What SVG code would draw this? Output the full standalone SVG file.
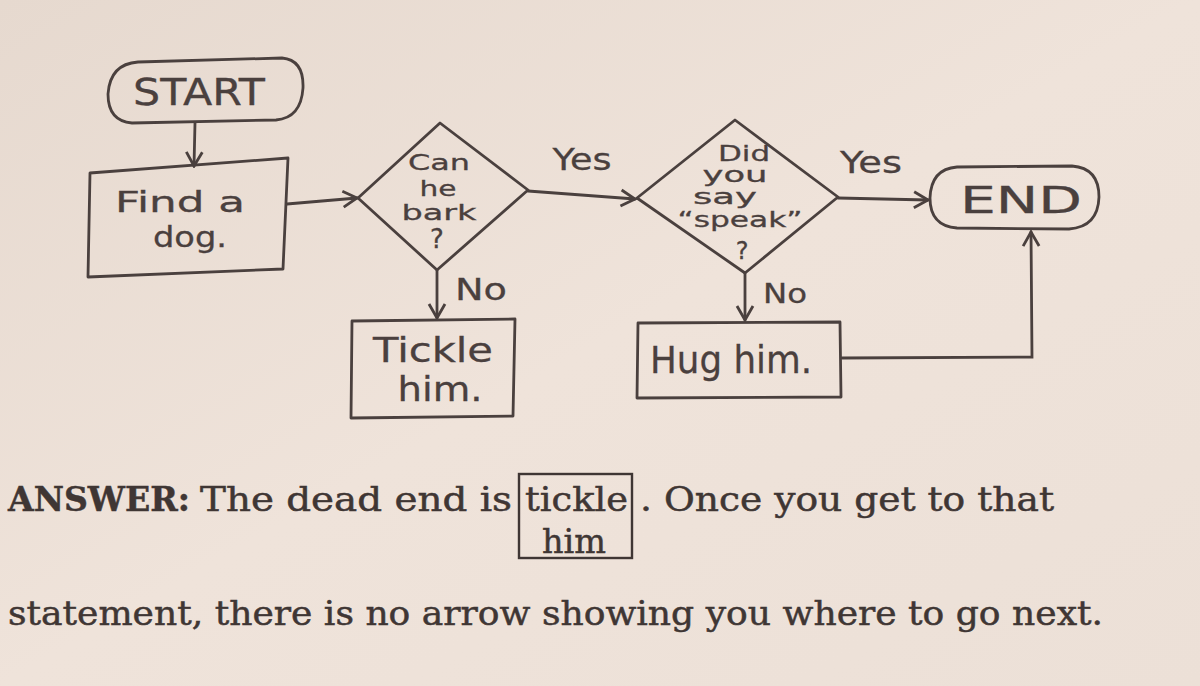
<svg xmlns="http://www.w3.org/2000/svg" width="1200" height="686" viewBox="0 0 1200 686">
<defs>
<linearGradient id="pg" x1="0" y1="0" x2="1" y2="1">
<stop offset="0" stop-color="#e6d9cf"/>
<stop offset="0.5" stop-color="#efe3da"/>
<stop offset="1" stop-color="#ece0d7"/>
</linearGradient>
<marker id="ah" viewBox="0 0 20 20" refX="18" refY="10" markerWidth="20" markerHeight="20" markerUnits="userSpaceOnUse" orient="auto">
<path d="M4,2 L18,10 L4,18" fill="none" stroke="#4a403e" stroke-width="2.8" stroke-linejoin="miter"/>
</marker>
</defs>
<style>
.ink{fill:none;stroke:#4a403e;stroke-width:2.8;stroke-linejoin:round;stroke-linecap:round}
.hand{font-family:"DejaVu Sans","Open Sans",sans-serif;fill:#4a403e;stroke:#4a403e;stroke-width:0.3;text-anchor:middle}
.book{font-family:"DejaVu Serif","Liberation Serif",serif;fill:#3f3634;stroke:#3f3634;stroke-width:0.5}
.conn{fill:none;stroke:#4a403e;stroke-width:2.8;stroke-linecap:round}
</style>
<rect width="1200" height="686" fill="url(#pg)"/>

<g id="connectors">
<path class="conn" d="M195,123 L194,166" marker-end="url(#ah)"/>
<path class="conn" d="M287,204 L357,198" marker-end="url(#ah)"/>
<path class="conn" d="M528,191 L635,199" marker-end="url(#ah)"/>
<path class="conn" d="M838,198 L928,200" marker-end="url(#ah)"/>
<path class="conn" d="M437,270 L437,318" marker-end="url(#ah)"/>
<path class="conn" d="M745,273 L745,320" marker-end="url(#ah)"/>
<path class="conn" d="M842,358 L1032,357 L1031,232" marker-end="url(#ah)"/>
<text class="hand" x="582" y="170" font-size="31" textLength="59" lengthAdjust="spacingAndGlyphs">Yes</text>
<text class="hand" x="871" y="173" font-size="31" textLength="62" lengthAdjust="spacingAndGlyphs">Yes</text>
<text class="hand" x="481" y="300" font-size="30" textLength="52" lengthAdjust="spacingAndGlyphs">No</text>
<text class="hand" x="785" y="303" font-size="26" textLength="44" lengthAdjust="spacingAndGlyphs">No</text>
</g>

<g id="start">
<path class="ink" d="M138,62 L282,58 Q304,60 303,88 Q301,118 276,120 L132,123 Q108,121 108,94 Q110,64 138,62 Z"/>
<text class="hand" x="199" y="105" font-size="37" textLength="132" lengthAdjust="spacingAndGlyphs">START</text>
</g>

<g id="find">
<path class="ink" d="M90,173 L288,158 L283,269 L88,277 Z"/>
<text class="hand" x="180" y="212" font-size="28" textLength="130" lengthAdjust="spacingAndGlyphs">Find a</text>
<text class="hand" x="190" y="247" font-size="28" textLength="74" lengthAdjust="spacingAndGlyphs">dog.</text>
</g>

<g id="bark">
<path class="ink" d="M358,198 L440,123 L528,190 L437,270 Z"/>
<text class="hand" x="439" y="170" font-size="22" textLength="62" lengthAdjust="spacingAndGlyphs">Can</text>
<text class="hand" x="438" y="196" font-size="22" textLength="37" lengthAdjust="spacingAndGlyphs">he</text>
<text class="hand" x="439" y="220" font-size="22" textLength="75" lengthAdjust="spacingAndGlyphs">bark</text>
<text class="hand" x="437" y="248" font-size="26">?</text>
</g>

<g id="tickle">
<path class="ink" d="M352,321 L515,319 L513,416 L351,418 Z"/>
<text class="hand" x="433" y="362" font-size="33" textLength="120" lengthAdjust="spacingAndGlyphs">Tickle</text>
<text class="hand" x="440" y="401" font-size="33" textLength="85" lengthAdjust="spacingAndGlyphs">him.</text>
</g>

<g id="speak">
<path class="ink" d="M637,198 L735,120 L838,197 L745,273 Z"/>
<text class="hand" x="744" y="161" font-size="21" textLength="52" lengthAdjust="spacingAndGlyphs">Did</text>
<text class="hand" x="735" y="182" font-size="21" textLength="65" lengthAdjust="spacingAndGlyphs">you</text>
<text class="hand" x="725" y="204" font-size="21" textLength="64" lengthAdjust="spacingAndGlyphs">say</text>
<text class="hand" x="740" y="227" font-size="21" textLength="125" lengthAdjust="spacingAndGlyphs">“speak”</text>
<text class="hand" x="742" y="259" font-size="24">?</text>
</g>

<g id="hug">
<path class="ink" d="M638,323 L840,322 L841,397 L637,398 Z"/>
<text class="hand" x="731" y="373" font-size="37" textLength="162" lengthAdjust="spacingAndGlyphs">Hug him.</text>
</g>

<g id="end">
<path class="ink" d="M957,167 L1072,166 Q1099,168 1099,197 Q1098,227 1069,229 L957,228 Q930,226 930,198 Q931,169 957,167 Z"/>
<text class="hand" x="1021" y="213" font-size="38" textLength="122" lengthAdjust="spacingAndGlyphs">END</text>
</g>

<g id="answer">
<text class="book" x="8" y="511" font-size="34" font-weight="bold" textLength="182" lengthAdjust="spacingAndGlyphs">ANSWER:</text>
<text class="book" x="200" y="511" font-size="34" textLength="312" lengthAdjust="spacingAndGlyphs">The dead end is</text>
<rect x="519" y="474" width="113" height="84" fill="none" stroke="#3f3634" stroke-width="2.4"/>
<text class="book" x="525" y="511" font-size="34" textLength="103" lengthAdjust="spacingAndGlyphs">tickle</text>
<text class="book" x="574" y="553" font-size="34" text-anchor="middle" textLength="64" lengthAdjust="spacingAndGlyphs">him</text>
<text class="book" x="640" y="511" font-size="34" textLength="414" lengthAdjust="spacingAndGlyphs">. Once you get to that</text>
<text class="book" x="8" y="625" font-size="34" textLength="1095" lengthAdjust="spacingAndGlyphs">statement, there is no arrow showing you where to go next.</text>
</g>
</svg>
